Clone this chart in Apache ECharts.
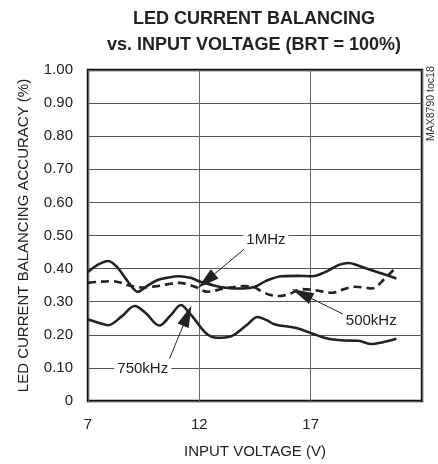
<!DOCTYPE html>
<html><head><meta charset="utf-8">
<script src="https://cdn.jsdelivr.net/npm/echarts@6/dist/echarts.min.js"></script>
<style>html,body{margin:0;padding:0;background:#fff}#c{width:438px;height:464px}</style>
</head><body><div id="c"></div>
<script>
var FONT = "'Liberation Sans Narrow','Arial Narrow','Liberation Sans',Arial,sans-serif";
var xTicks = [7, 12, 17];
var yTicks = [0, 0.1, 0.2, 0.3, 0.4, 0.5, 0.6, 0.7, 0.8, 0.9, 1.0];
var s1MHz = [[7.0,0.39],[7.4,0.41],[7.9,0.423],[8.3,0.405],[8.8,0.36],[9.25,0.33],[9.6,0.345],[10.1,0.365],[10.6,0.373],[11.1,0.377],[11.6,0.372],[12.05,0.36],[12.6,0.35],[13.1,0.343],[13.6,0.34],[14.0,0.34],[14.5,0.345],[15.0,0.363],[15.7,0.377],[16.4,0.378],[17.06,0.377],[17.5,0.385],[17.9,0.398],[18.3,0.412],[18.7,0.417],[19.1,0.41],[19.6,0.398],[20.2,0.385],[20.85,0.37]];
var s500kHz = [[7.0,0.357],[7.5,0.36],[8.06,0.362],[8.5,0.357],[8.8,0.35],[9.4,0.343],[10.1,0.347],[10.6,0.353],[11.1,0.357],[11.5,0.352],[11.8,0.345],[12.37,0.33],[12.8,0.335],[13.1,0.34],[14.0,0.347],[14.4,0.345],[14.83,0.33],[15.2,0.32],[15.57,0.317],[16.1,0.325],[16.6,0.338],[17.2,0.335],[17.95,0.327],[18.5,0.338],[19.0,0.345],[19.4,0.343],[19.74,0.34],[20.33,0.37],[20.85,0.405]];
var s750kHz = [[7.0,0.246],[7.5,0.236],[7.9,0.229],[8.5,0.255],[9.1,0.287],[9.6,0.265],[10.2,0.228],[10.7,0.258],[11.18,0.29],[11.5,0.27],[11.8,0.246],[12.3,0.205],[12.8,0.191],[13.4,0.195],[14.16,0.231],[14.6,0.254],[15.0,0.245],[15.4,0.231],[16.3,0.221],[17.06,0.204],[17.8,0.188],[18.55,0.183],[19.14,0.182],[19.74,0.172],[20.2,0.177],[20.85,0.188]];
// annotation labels [x, y, text] and arrows [fromX, fromY, toX, toY] in data units
var labels = [[14.99, 0.5, '1MHz'], [19.72, 0.253, '500kHz'], [9.46, 0.11, '750kHz']];
var arrows = [[14.0, 0.458, 12.31, 0.363], [18.47, 0.262, 16.6, 0.324], [10.66, 0.128, 11.46, 0.258]];

var chart = echarts.init(document.getElementById('c'));
var lineStyle = {color: '#222', width: 2.6};
chart.setOption({
  animation: false,
  grid: {left: 88, right: 16, top: 70, bottom: 58, show: true, borderColor: '#111', borderWidth: 2.5},
  xAxis: {
    type: 'value', min: 7, max: 22, interval: 5,
    name: 'INPUT VOLTAGE (V)', nameLocation: 'middle', nameGap: 43,
    nameTextStyle: {fontFamily: FONT, fontSize: 15, color: '#222'},
    axisLine: {show: false}, axisTick: {show: false},
    axisLabel: {fontFamily: FONT, fontSize: 15, color: '#222', margin: 16,
      formatter: function (v) { return xTicks.indexOf(v) >= 0 ? String(v) : ''; }},
    splitLine: {show: true, lineStyle: {color: '#666', width: 1}}
  },
  yAxis: {
    type: 'value', min: 0, max: 1, interval: 0.1,
    name: 'LED CURRENT BALANCING ACCURACY (%)', nameLocation: 'middle', nameGap: 57,
    nameTextStyle: {fontFamily: FONT, fontSize: 15, color: '#222'},
    axisLine: {show: false}, axisTick: {show: false},
    axisLabel: {fontFamily: FONT, fontSize: 15, color: '#222', margin: 15,
      formatter: function (v) { return v === 0 ? '0' : v.toFixed(2); }},
    splitLine: {show: true, lineStyle: {color: '#555', width: 1}}
  },
  graphic: [{
    type: 'text', x: 254, y: 6,
    style: {text: 'LED CURRENT BALANCING\nvs. INPUT VOLTAGE (BRT = 100%)', align: 'center',
      fontFamily: FONT, fontWeight: 'bold', fontSize: 18, lineHeight: 26, fill: '#222'}
  }, {
    type: 'text', x: 426, y: 141, rotation: Math.PI / 2,
    style: {text: 'MAX8790 toc18', fontFamily: FONT, fontSize: 10.5, fill: '#333'}
  }],
  series: [
    {type: 'line', name: '1MHz', data: s1MHz, smooth: 0.35, showSymbol: false, lineStyle: lineStyle,
      markPoint: {
        symbol: 'rect', symbolSize: 0,
        label: {show: true, position: 'inside', offset: [0, 4], fontFamily: FONT, fontSize: 15, color: '#222',
          backgroundColor: '#fff', padding: [1, 3], formatter: function (p) { return p.name; }},
        data: labels.map(function (l) { return {name: l[2], coord: [l[0], l[1]]}; })
      },
      markLine: {
        silent: true, symbol: ['none', 'triangle'], symbolSize: [12, 22],
        lineStyle: {color: '#222', width: 1, type: 'solid'},
        label: {show: false},
        data: arrows.map(function (a) { return [{coord: [a[0], a[1]]}, {coord: [a[2], a[3]]}]; })
      }
    },
    {type: 'line', name: '500kHz', data: s500kHz, smooth: 0.35, showSymbol: false,
      lineStyle: {color: '#222', width: 2.6, type: [8, 5]}},
    {type: 'line', name: '750kHz', data: s750kHz, smooth: 0.35, showSymbol: false, lineStyle: lineStyle}
  ]
});
</script></body></html>
